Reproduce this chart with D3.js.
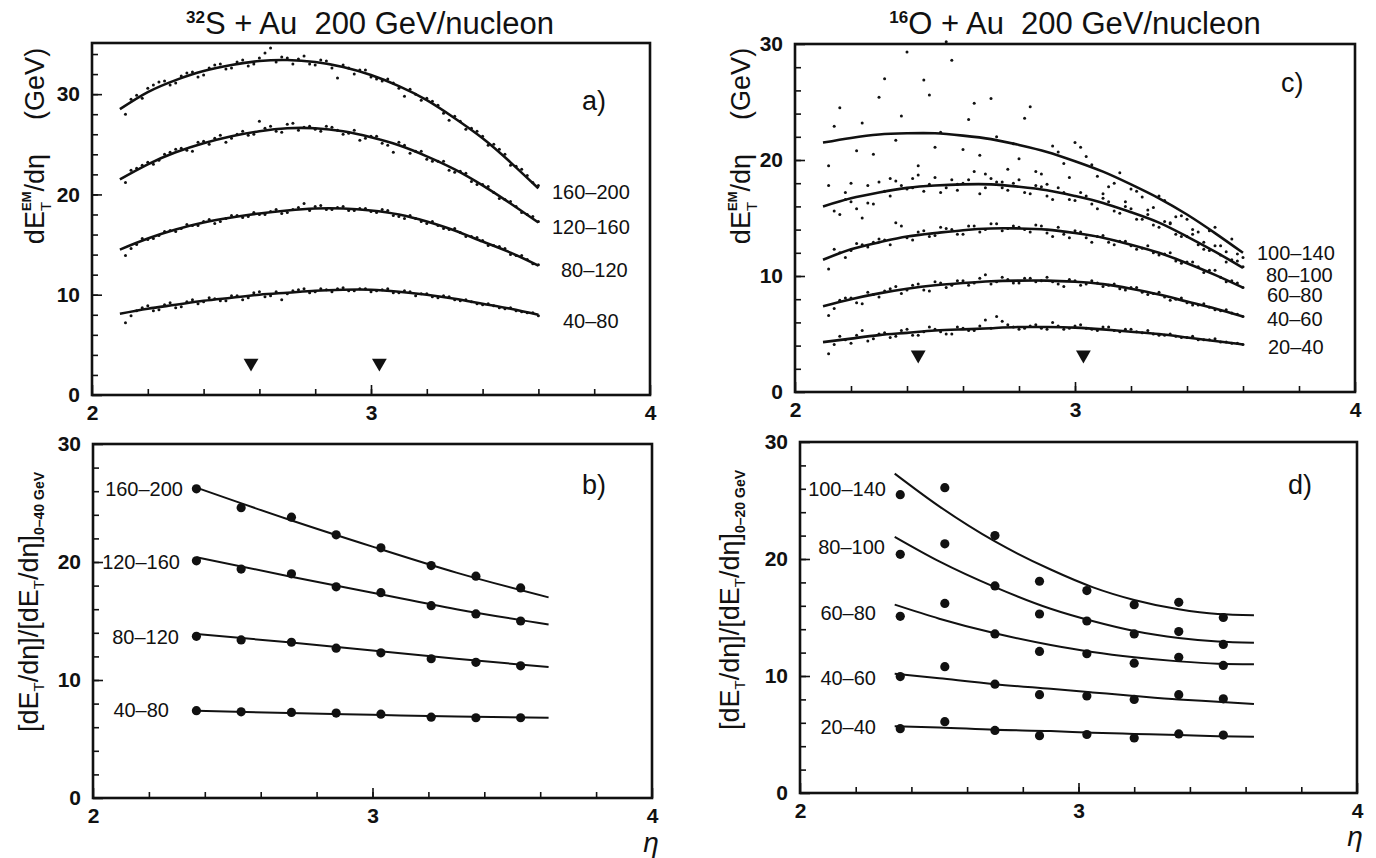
<!DOCTYPE html>
<html>
<head>
<meta charset="utf-8">
<script src="https://cdn.jsdelivr.net/npm/d3@7"></script>
<style>
body { margin: 0; background: #fff; }
svg text { font-family: "Liberation Sans", Arial, sans-serif; fill: #111; }
</style>
</head>
<body>
<svg id="fig" width="1376" height="858"></svg>
<script>
// ---- data ----
// fitted curves, panels a) and c)
var etaFit = [2.1, 2.2, 2.3, 2.4, 2.5, 2.6, 2.7, 2.8, 2.9, 3.0, 3.1, 3.2, 3.3, 3.4, 3.5, 3.6];
var fitS160 = [28.5, 30.2, 31.4, 32.3, 32.9, 33.3, 33.4, 33.2, 32.7, 31.9, 30.8, 29.4, 27.6, 25.6, 23.2, 20.6];
var fitS120 = [21.5, 23.0, 24.2, 25.1, 25.8, 26.3, 26.6, 26.6, 26.3, 25.7, 24.9, 23.8, 22.5, 20.9, 19.1, 17.2];
var fitS80  = [14.5, 15.6, 16.5, 17.2, 17.7, 18.1, 18.4, 18.6, 18.6, 18.4, 18.0, 17.3, 16.4, 15.3, 14.2, 12.9];
var fitS40  = [8.1, 8.6, 9.0, 9.4, 9.7, 10.0, 10.2, 10.4, 10.5, 10.5, 10.3, 10.0, 9.6, 9.1, 8.6, 8.0];
var fitO100 = [21.5, 21.9, 22.2, 22.3, 22.3, 22.1, 21.8, 21.3, 20.7, 19.9, 19.0, 17.9, 16.7, 15.3, 13.7, 12.0];
var fitO80  = [16.0, 16.7, 17.2, 17.6, 17.8, 17.9, 17.9, 17.7, 17.4, 16.9, 16.3, 15.5, 14.6, 13.4, 12.1, 10.7];
var fitO60  = [11.4, 12.3, 12.9, 13.4, 13.7, 13.95, 14.1, 14.1, 14.0, 13.7, 13.3, 12.7, 12.0, 11.1, 10.1, 9.0];
var fitO40  = [7.4, 8.0, 8.5, 8.9, 9.2, 9.4, 9.55, 9.6, 9.6, 9.5, 9.3, 8.9, 8.4, 7.8, 7.2, 6.5];
var fitO20  = [4.3, 4.6, 4.9, 5.1, 5.3, 5.4, 5.5, 5.6, 5.6, 5.55, 5.4, 5.2, 5.0, 4.7, 4.4, 4.1];

// measured dE/deta points, panels a) and c) (two interleaved eta grids)
var etaDots = [2.12, 2.16, 2.20, 2.24, 2.28, 2.32, 2.36, 2.40, 2.44, 2.48, 2.52, 2.56, 2.60, 2.64, 2.68, 2.72, 2.76, 2.80, 2.84,
               2.88, 2.92, 2.96, 3.00, 3.04, 3.08, 3.12, 3.16, 3.20, 3.24, 3.28, 3.32, 3.36, 3.40, 3.44, 3.48, 3.52, 3.56, 3.60];
var etaDots2 = [2.14, 2.18, 2.22, 2.26, 2.30, 2.34, 2.38, 2.42, 2.46, 2.50, 2.54, 2.58, 2.62, 2.66, 2.70, 2.74, 2.78, 2.82, 2.86,
                2.90, 2.94, 2.98, 3.02, 3.06, 3.10, 3.14, 3.18, 3.22, 3.26, 3.30, 3.34, 3.38, 3.42, 3.46, 3.50, 3.54, 3.58];
var dotS160 = [28.0, 29.9, 30.6, 31.2, 30.9, 31.8, 32.2, 31.9, 32.9, 32.5, 33.2, 32.8, 33.6, 34.6, 33.7, 33.0, 33.8, 32.9, 33.3,
               31.6, 32.6, 32.4, 31.7, 31.3, 31.1, 29.8, 30.0, 29.6, 28.9, 27.4, 27.3, 26.6, 25.8, 25.0, 24.0, 22.8, 21.9, 20.9];
var dot2S160 = [29.5, 29.6, 30.9, 31.3, 31.1, 32.1, 31.7, 32.6, 33.0, 32.6, 33.4, 33.0, 34.1, 33.2, 33.6, 33.5, 33.0, 33.4, 32.6,
                32.9, 32.0, 32.4, 31.5, 31.5, 30.6, 30.5, 29.4, 29.3, 28.1, 27.8, 26.5, 26.3, 24.9, 24.5, 22.9, 22.5, 21.2];
var dotS120 = [21.2, 22.6, 23.2, 23.4, 24.2, 24.6, 24.3, 25.3, 25.6, 25.2, 26.0, 25.9, 27.3, 26.8, 26.2, 27.1, 26.7, 26.5, 26.8,
               26.4, 26.1, 25.4, 25.8, 25.1, 24.2, 24.9, 24.3, 23.5, 23.3, 22.4, 22.3, 21.3, 21.0, 20.2, 19.5, 18.8, 18.0, 17.3];
var dot2S120 = [22.4, 22.9, 23.0, 24.0, 24.5, 24.4, 25.2, 25.0, 25.9, 25.6, 26.3, 26.0, 26.6, 26.3, 27.0, 26.4, 26.8, 26.3, 26.7,
                26.0, 26.4, 25.6, 25.8, 24.9, 25.2, 24.1, 24.3, 23.3, 23.3, 22.2, 22.1, 21.0, 20.8, 19.6, 19.3, 18.2, 17.8];
var dotS80  = [13.9, 15.0, 15.5, 15.9, 16.4, 16.6, 16.9, 17.3, 17.1, 17.6, 17.9, 17.8, 18.0, 18.3, 18.1, 18.5, 19.1, 18.8, 18.5,
               18.7, 18.4, 18.6, 18.3, 18.5, 17.9, 17.6, 17.6, 17.1, 16.9, 16.5, 16.2, 15.8, 15.4, 14.9, 14.6, 13.9, 13.5, 13.0];
var dot2S80 = [14.6, 15.6, 15.6, 16.3, 16.3, 17.0, 16.9, 17.5, 17.3, 17.9, 17.7, 18.2, 18.0, 18.5, 18.2, 18.7, 18.4, 18.9, 18.5,
               18.8, 18.4, 18.6, 18.2, 18.4, 17.8, 17.9, 17.3, 17.3, 16.6, 16.6, 15.8, 15.7, 14.9, 14.8, 14.0, 13.9, 13.1];
var dotS40  = [7.2, 8.4, 8.9, 8.5, 9.2, 8.8, 9.5, 9.3, 9.6, 9.4, 9.9, 9.7, 10.3, 9.9, 9.5, 10.4, 10.6, 10.3, 10.5,
               10.6, 10.4, 10.6, 10.3, 10.5, 10.2, 10.4, 9.9, 10.1, 9.7, 9.8, 9.4, 9.3, 9.0, 8.9, 8.6, 8.4, 8.2, 7.9];
var dot2S40 = [7.9, 8.7, 8.4, 9.0, 8.7, 9.3, 9.1, 9.7, 9.4, 9.9, 9.5, 10.2, 9.8, 10.3, 10.1, 10.5, 10.2, 10.6, 10.3,
               10.7, 10.4, 10.6, 10.4, 10.6, 10.2, 10.3, 10.1, 9.8, 9.9, 9.5, 9.5, 9.1, 9.1, 8.7, 8.7, 8.3, 8.2];
var dotO100 = [19.5, 24.5, 18.0, 23.2, 20.5, 27.0, 21.7, 29.3, 19.5, 25.6, 22.4, 28.6, 20.9, 24.9, 18.8, 22.0, 19.2, 20.1, 24.6,
               18.8, 21.2, 19.7, 21.5, 20.3, 18.6, 17.7, 18.9, 17.5, 16.8, 15.9, 16.5, 15.1, 14.9, 13.8, 13.9, 12.6, 13.2, 11.6];
var dot2O100 = [22.9, 16.6, 20.8, 17.8, 25.4, 18.4, 23.8, 17.6, 26.9, 21.1, 30.2, 17.9, 23.5, 20.4, 25.3, 18.1, 21.4, 23.6, 19.0,
                17.9, 20.7, 18.5, 21.1, 19.6, 17.1, 18.0, 16.4, 17.3, 15.7, 16.9, 14.6, 15.2, 14.0, 12.9, 14.2, 12.1, 11.9];
var dotO80  = [17.8, 15.3, 16.4, 15.0, 16.2, 17.3, 18.2, 17.5, 18.7, 17.9, 17.2, 18.3, 18.0, 19.0, 17.6, 18.1, 17.4, 18.3, 17.1,
               17.7, 16.6, 17.2, 16.5, 16.9, 15.8, 16.4, 15.4, 15.8, 14.9, 14.4, 14.7, 13.6, 13.4, 12.7, 12.2, 11.8, 11.4, 10.8];
var dot2O80 = [15.6, 17.2, 15.8, 16.3, 18.1, 16.9, 17.8, 18.4, 17.3, 18.5, 17.6, 17.4, 18.3, 17.1, 18.4, 17.6, 18.0, 17.2, 17.8,
               16.9, 17.6, 16.6, 17.2, 16.2, 16.7, 15.6, 16.0, 14.9, 15.3, 14.2, 14.5, 13.4, 13.6, 12.3, 12.6, 11.2, 11.3];
var dotO60  = [10.6, 12.0, 12.2, 12.7, 12.9, 13.1, 14.6, 13.3, 13.8, 13.4, 14.2, 14.0, 13.6, 14.3, 14.0, 14.5, 14.1, 14.2, 13.8,
               14.3, 13.4, 13.6, 13.9, 13.3, 13.4, 12.9, 13.0, 12.6, 12.4, 12.0, 11.9, 11.3, 11.2, 10.8, 10.5, 9.9, 9.6, 9.0];
var dot2O60 = [12.3, 11.6, 12.8, 12.5, 13.2, 12.7, 14.3, 13.1, 13.9, 13.5, 14.1, 13.6, 14.3, 13.8, 14.5, 13.9, 14.3, 14.0, 14.4,
               13.7, 14.2, 13.3, 13.8, 12.9, 13.5, 12.7, 13.0, 12.3, 12.6, 11.8, 12.0, 11.1, 11.2, 10.3, 10.5, 9.5, 9.4];
var dotO40  = [6.6, 7.9, 8.1, 7.6, 8.4, 8.7, 9.1, 8.8, 9.3, 8.7, 9.4, 9.2, 9.6, 9.4, 10.1, 9.5, 9.7, 9.4, 9.8,
               9.6, 9.5, 9.1, 9.6, 9.3, 9.4, 9.2, 8.9, 9.0, 8.6, 8.5, 8.2, 8.0, 7.7, 7.5, 7.3, 7.0, 6.8, 6.5];
var dot2O40 = [7.2, 8.1, 7.7, 8.6, 8.2, 8.9, 8.5, 9.2, 8.8, 9.5, 9.0, 9.6, 9.2, 9.8, 9.3, 9.9, 9.4, 9.8, 9.5,
               9.9, 9.3, 9.7, 9.2, 9.6, 9.1, 9.3, 8.8, 9.0, 8.4, 8.6, 7.9, 8.1, 7.5, 7.6, 7.1, 7.1, 6.7];
var dotO20  = [3.3, 4.8, 4.2, 5.3, 4.6, 5.1, 4.8, 5.4, 4.9, 5.6, 5.2, 5.0, 5.5, 5.3, 6.2, 6.5, 5.8, 5.4, 5.7,
               5.5, 6.0, 5.4, 5.7, 5.5, 5.3, 5.6, 5.2, 5.4, 5.1, 5.0, 4.9, 4.8, 4.7, 4.5, 4.5, 4.3, 4.2, 4.1];
var dot2O20 = [4.1, 4.5, 4.9, 4.4, 5.0, 4.7, 5.3, 4.9, 5.2, 5.4, 5.0, 5.6, 5.3, 5.7, 5.5, 6.1, 5.6, 5.5, 5.8,
               5.4, 5.7, 5.5, 5.8, 5.4, 5.6, 5.3, 5.4, 5.2, 5.3, 4.9, 5.0, 4.7, 4.8, 4.5, 4.6, 4.3, 4.2];

// triangle markers
var triS = [2.57, 3.03];
var triO = [2.44, 3.03];
var triLevel = 3.2;

// ratio points, panel b)
var etaB = [2.37, 2.53, 2.71, 2.87, 3.03, 3.21, 3.37, 3.53];
var ratS160 = [26.2, 24.6, 23.8, 22.3, 21.2, 19.7, 18.8, 17.8];
var ratS120 = [20.1, 19.4, 19.0, 17.9, 17.4, 16.3, 15.6, 15.0];
var ratS80  = [13.7, 13.4, 13.2, 12.7, 12.3, 11.8, 11.5, 11.2];
var ratS40  = [7.4, 7.3, 7.25, 7.2, 7.1, 6.85, 6.8, 6.8];
var etaFitB = [2.37, 2.7, 3.0, 3.3, 3.63];
var lineS160 = [26.3, 23.6, 21.3, 19.1, 17.0];
var lineS120 = [20.4, 18.8, 17.4, 16.0, 14.7];
var lineS80  = [13.9, 13.2, 12.5, 11.8, 11.1];
var lineS40  = [7.4, 7.2, 7.05, 6.9, 6.8];

// ratio points, panel d)
var etaD = [2.36, 2.52, 2.70, 2.86, 3.03, 3.20, 3.36, 3.52];
var ratO100 = [25.5, 26.1, 22.0, 18.1, 17.3, 16.1, 16.3, 15.0];
var ratO80  = [20.4, 21.3, 17.7, 15.3, 14.7, 13.6, 13.8, 12.7];
var ratO60  = [15.1, 16.2, 13.6, 12.1, 11.9, 11.1, 11.6, 10.9];
var ratO40  = [9.95, 10.8, 9.3, 8.4, 8.3, 8.0, 8.4, 8.05];
var ratO20  = [5.5, 6.1, 5.35, 4.9, 5.0, 4.7, 5.05, 4.95];
var etaFitD = [2.34, 2.5, 2.7, 2.9, 3.05, 3.2, 3.36, 3.5, 3.63];
var curO100 = [27.3, 24.5, 21.5, 19.1, 17.6, 16.5, 15.7, 15.3, 15.2];
var curO80  = [21.9, 19.8, 17.6, 15.75, 14.7, 13.85, 13.25, 12.95, 12.85];
var curO60  = [16.1, 14.9, 13.65, 12.65, 12.05, 11.6, 11.25, 11.05, 11.0];
var curO40  = [10.2, 9.8, 9.3, 8.9, 8.6, 8.3, 8.0, 7.8, 7.6];
var curO20  = [5.7, 5.6, 5.4, 5.3, 5.15, 5.05, 4.95, 4.85, 4.8];

var binsS = ["160\u2013200", "120\u2013160", "80\u2013120", "40\u201380"];
var binsO = ["100\u2013140", "80\u2013100", "60\u201380", "40\u201360", "20\u201340"];
var xTicks = [2, 3, 4];
var yTicks = [0, 10, 20, 30];

// ---- drawing ----
var svg = d3.select("#fig");

var setupPanel = function(p){
    var x = d3.scaleLinear().domain([2, 4]).range([p.left, p.right]);
    var y = d3.scaleLinear().domain([0, p.ymax]).range([p.bottom, p.top]);
    var g = svg.append("g");

    var clean = function(sel){
        sel.select(".domain").remove();
        sel.selectAll("line").attr("stroke", "#111").attr("stroke-width", 1.6);
        sel.selectAll("text").style("font-size", "21px").style("font-weight", "bold").attr("fill", "#111");
    };
    // minor ticks, inward
    g.append("g").attr("transform", "translate(0," + p.bottom + ")")
        .call(d3.axisBottom(x).tickValues(d3.range(2.2, 3.95, 0.2)).tickSize(-6).tickFormat(""))
        .call(clean);
    g.append("g").attr("transform", "translate(" + p.left + ",0)")
        .call(d3.axisLeft(y).tickValues(d3.range(2, p.ymax, 2)).tickSize(-6).tickFormat(""))
        .call(clean);
    // major ticks with labels
    g.append("g").attr("transform", "translate(0," + p.bottom + ")")
        .call(d3.axisBottom(x).tickValues(xTicks).tickSize(-10).tickPadding(10).tickFormat(d3.format("d")))
        .call(clean);
    g.append("g").attr("transform", "translate(" + p.left + ",0)")
        .call(d3.axisLeft(y).tickValues(yTicks).tickSize(-10).tickPadding(12).tickFormat(d3.format("d")))
        .call(clean);

    g.append("rect")
        .attr("x", p.left).attr("y", p.top)
        .attr("width", p.right - p.left).attr("height", p.bottom - p.top)
        .attr("fill", "none").attr("stroke", "#111").attr("stroke-width", 2.6);

    g.append("text").attr("x", p.lx).attr("y", p.ly).text(p.letter)
        .style("font-size", "27px");
    return {x: x, y: y, g: g};
};

var drawCurve = function(P, xs, ys, w, curve){
    var line = d3.line().x(function(d){return P.x(d[0]);}).y(function(d){return P.y(d[1]);})
        .curve(curve || d3.curveNatural);
    P.g.append("path").datum(d3.zip(xs, ys)).attr("d", line)
        .attr("fill", "none").attr("stroke", "#111").attr("stroke-width", w);
};

var drawDots = function(P, xs, ys, r){
    P.g.append("g").selectAll("circle").data(d3.zip(xs, ys)).enter()
        .append("circle")
        .attr("cx", function(d){return P.x(d[0]);})
        .attr("cy", function(d){return P.y(d[1]);})
        .attr("r", r).attr("fill", "#111");
};

var drawTriangles = function(P, xs){
    P.g.append("g").selectAll("path").data(xs).enter()
        .append("path")
        .attr("d", d3.symbol().type(d3.symbolTriangle).size(95))
        .attr("transform", function(d){return "translate(" + P.x(d) + "," + P.y(triLevel) + ") rotate(180)";})
        .attr("fill", "#111");
};

var label = function(x, y, txt, anchor){
    svg.append("text").attr("x", x).attr("y", y).attr("dy", "0.35em")
        .attr("text-anchor", anchor || "start").text(txt).style("font-size", "20px");
};

// panel a
var pa = setupPanel({left: 92, right: 650, top: 43, bottom: 395, ymax: 35.1, letter: "a)", lx: 582, ly: 110});
var fitsS = [fitS160, fitS120, fitS80, fitS40];
var dotsS = [dotS160, dotS120, dotS80, dotS40];
var dots2S = [dot2S160, dot2S120, dot2S80, dot2S40];
for (var i = 0; i < fitsS.length; i++){
    drawDots(pa, etaDots, dotsS[i], 1.5);
    drawDots(pa, etaDots2, dots2S[i], 1.5);
    drawCurve(pa, etaFit, fitsS[i], 2.6);
}
drawTriangles(pa, triS);
var labAx = [552, 552, 561, 563];
var labAy = [192, 227, 270, 321];
for (var i = 0; i < binsS.length; i++){ label(labAx[i], labAy[i], binsS[i]); }

// panel c
var pc = setupPanel({left: 795, right: 1355, top: 44, bottom: 392, ymax: 30, letter: "c)", lx: 1281, ly: 92});
var fitsO = [fitO100, fitO80, fitO60, fitO40, fitO20];
var dotsO = [dotO100, dotO80, dotO60, dotO40, dotO20];
var dots2O = [dot2O100, dot2O80, dot2O60, dot2O40, dot2O20];
for (var i = 0; i < fitsO.length; i++){
    drawDots(pc, etaDots, dotsO[i], 1.5);
    drawDots(pc, etaDots2, dots2O[i], 1.5);
    drawCurve(pc, etaFit, fitsO[i], 2.6);
}
drawTriangles(pc, triO);
var labCx = [1257, 1266, 1267, 1267, 1268];
var labCy = [253, 275, 295, 319, 347];
for (var i = 0; i < binsO.length; i++){ label(labCx[i], labCy[i], binsO[i]); }

// panel b
var pb = setupPanel({left: 93, right: 652, top: 444, bottom: 798, ymax: 30, letter: "b)", lx: 582, ly: 494});
var ratS = [ratS160, ratS120, ratS80, ratS40];
var linS = [lineS160, lineS120, lineS80, lineS40];
for (var i = 0; i < ratS.length; i++){
    drawCurve(pb, etaFitB, linS[i], 2, d3.curveMonotoneX);
    drawDots(pb, etaB, ratS[i], 4.6);
}
var labBx = [183, 180, 179, 169];
var labBy = [489, 562, 637, 710];
for (var i = 0; i < binsS.length; i++){ label(labBx[i], labBy[i], binsS[i], "end"); }

// panel d
var pd = setupPanel({left: 800, right: 1357, top: 442, bottom: 793, ymax: 30, letter: "d)", lx: 1288, ly: 494});
var ratO = [ratO100, ratO80, ratO60, ratO40, ratO20];
var curO = [curO100, curO80, curO60, curO40, curO20];
for (var i = 0; i < ratO.length; i++){
    drawCurve(pd, etaFitD, curO[i], 2, d3.curveMonotoneX);
    drawDots(pd, etaD, ratO[i], 4.6);
}
var labDx = [886, 885, 876, 876, 876];
var labDy = [489, 547, 613, 678, 727];
for (var i = 0; i < binsO.length; i++){ label(labDx[i], labDy[i], binsO[i], "end"); }

// titles
var title = function(cx, sup, rest){
    var t = svg.append("text").attr("x", cx).attr("y", 34).attr("text-anchor", "middle").style("font-size", "31px");
    t.append("tspan").text(sup).attr("dy", -11).style("font-size", "17px").style("font-weight", "bold");
    t.append("tspan").text(rest).attr("dy", 11);
};
title(370, "32", "S + Au\u00a0\u00a0200 GeV/nucleon");
title(1075, "16", "O + Au\u00a0\u00a0200 GeV/nucleon");

// y labels, top panels
var yLabTop = function(bx, cy){
    var t = svg.append("text").attr("transform", "translate(" + bx + "," + cy + ") rotate(-90)")
        .attr("text-anchor", "middle").style("font-size", "27px");
    t.append("tspan").text("dE");
    t.append("tspan").text("T").attr("dy", 7).style("font-size", "15px");
    t.append("tspan").text("EM").attr("dx", -9).attr("dy", -20).style("font-size", "13px").style("font-weight", "bold");
    t.append("tspan").text("/d\u03b7").attr("dy", 13);
    t.append("tspan").text("(GeV)").attr("dx", 34);
};
yLabTop(44, 146);
yLabTop(750, 146);

// y labels, bottom panels
var yLabBot = function(bx, cy, sub){
    var t = svg.append("text").attr("transform", "translate(" + bx + "," + cy + ") rotate(-90)")
        .attr("text-anchor", "middle").style("font-size", "27px");
    t.append("tspan").text("[dE");
    t.append("tspan").text("T").attr("dy", 6).style("font-size", "15px");
    t.append("tspan").text("/d\u03b7]/[dE").attr("dy", -6);
    t.append("tspan").text("T").attr("dy", 6).style("font-size", "15px");
    t.append("tspan").text("/d\u03b7]").attr("dy", -6);
    t.append("tspan").text(sub).attr("dy", 6).style("font-size", "14px").style("font-weight", "bold");
};
yLabBot(38, 602, "0\u201340 GeV");
yLabBot(739, 600, "0\u201320 GeV");

// eta labels
svg.append("text").attr("x", 651).attr("y", 852).attr("text-anchor", "middle")
    .style("font-size", "28px").style("font-style", "italic").text("\u03b7");
svg.append("text").attr("x", 1355).attr("y", 846).attr("text-anchor", "middle")
    .style("font-size", "28px").style("font-style", "italic").text("\u03b7");
</script>
</body>
</html>
